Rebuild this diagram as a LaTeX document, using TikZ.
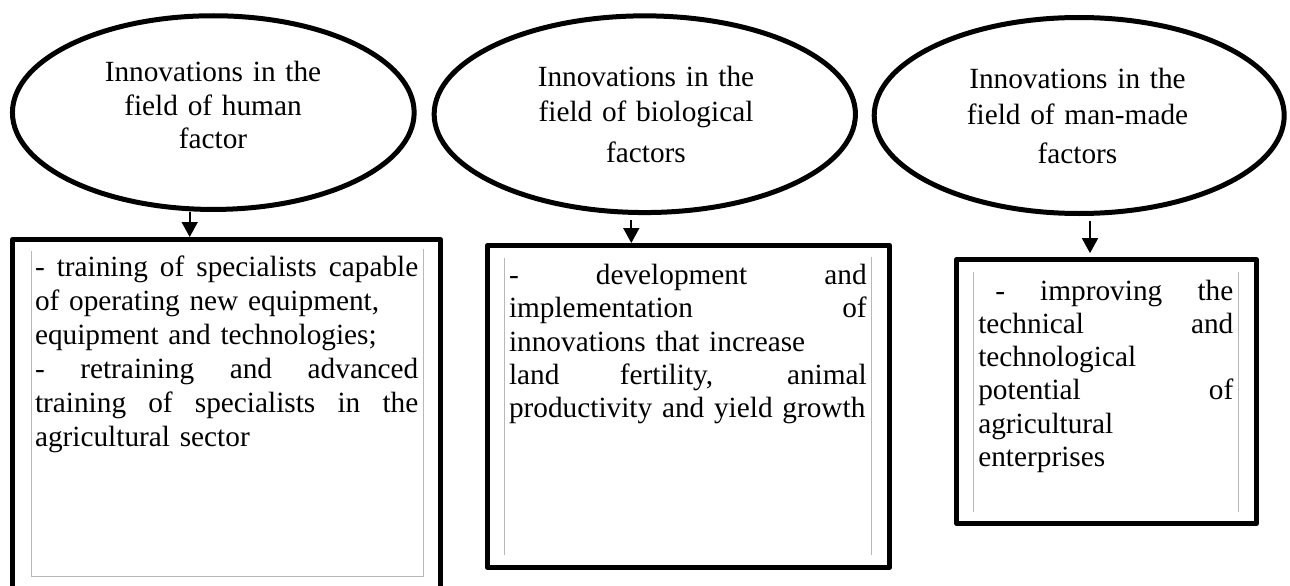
\documentclass[tikz,border=0pt]{standalone}
\usepackage{fontspec}
\setmainfont{Liberation Serif}
\usetikzlibrary{arrows.meta,shapes.geometric}
% a line of text spread to the full measure of its box
% (align=left fixes \spaceskip, so give the spaces back their stretch)
\newcommand{\spreadline}[2]{\makebox[#1][s]{\spaceskip=0pt\xspaceskip=0pt #2}}
\begin{document}
\begin{tikzpicture}[x=1pt,y=-1pt,
  txt/.style={font=\fontsize{29.3}{33.6}\selectfont, inner sep=0pt, outer sep=0pt},
  head/.style={txt, text width=380pt, align=center, anchor=base},
  body/.style={txt, align=left, anchor=base west},
  oval/.style={ellipse, draw, line width=5pt, inner sep=0pt},
  frame/.style={rectangle, draw, line width=5pt, line join=round, inner sep=0pt},
  guide/.style={draw=black!28, line width=1pt},
  arr/.style={line width=1.7pt, -{Triangle[width=16pt,length=15pt]}}]
\useasboundingbox (0,0) rectangle (1290,586);
\clip (0,0) rectangle (1290,586);

% ---- the three factor ellipses
\node[oval, minimum width=401.7pt, minimum height=193.7pt] (e1) at (213.3,112.6) {};
\node[oval, minimum width=421.3pt, minimum height=196.7pt] (e2) at (644.8,114.2) {};
\node[oval, minimum width=410pt,   minimum height=196pt]   (e3) at (1079.2,115.5) {};

\node[head] (h1) at (213,81.7)   {Innovations in the\\ field of human\\ factor};
\node[head] (h2) at (646,86)     {Innovations in the\\[2pt] field of biological\\[7pt] factors};
\node[head] (h3) at (1077.5,88.3){Innovations in the\\[3pt] field of man-made\\[4.5pt] factors};

% ---- the three content boxes
\node[frame, minimum width=428pt,   minimum height=352.5pt] (b1) at (226.5,415.75) {};
\node[frame, minimum width=402.5pt, minimum height=321.8pt] (b2) at (688.5,406.4) {};
\node[frame, minimum width=299.8pt, minimum height=263.7pt] (b3) at (1106.4,391.5) {};

% thin text-area guides inside the boxes
\draw[guide] (31.7,251) -- (31.7,576.7) -- (423.3,576.7) -- (423.3,249);
\draw[guide] (504.3,258) -- (504.3,555);
\draw[guide] (871.7,257) -- (871.7,555);
\draw[guide] (973.3,272) -- (973.3,512);
\draw[guide] (1238.3,272) -- (1238.3,512);

\node[body, text width=383.3pt, font=\fontsize{29.3}{34}\selectfont] (t1) at (35,276.7) {%
  \spreadline{383.3pt}{- training of specialists capable}\\
  of operating new equipment,\\
  equipment and technologies;\\
  \spreadline{383.3pt}{- retraining and advanced}\\
  \spreadline{383.3pt}{training of specialists in the}\\
  agricultural sector};

\node[body, text width=357.7pt, font=\fontsize{29.3}{33.3}\selectfont] (t2) at (509,284.5) {%
  \spreadline{357.7pt}{- development and}\\
  \spreadline{357.7pt}{implementation of}\\
  innovations that increase\\
  \spreadline{357.7pt}{land fertility, animal}\\
  productivity and yield growth};

\node[body, text width=255pt, font=\fontsize{29.3}{33.3}\selectfont] (t3) at (978.3,300) {%
  \spreadline{255pt}{\hspace*{17pt}- improving the}\\
  \spreadline{255pt}{technical and}\\
  technological\\
  \spreadline{255pt}{potential of}\\
  agricultural\\
  enterprises};

% ---- connectors
\coordinate (c1) at (189.7,0);
\coordinate (c2) at (631.3,0);
\coordinate (c3) at (1090,0);
\draw[arr] (e1.south -| c1) -- (b1.north -| c1);
\draw[arr, shorten <=5pt] (e2.south -| c2) -- (b2.north -| c2);
\draw[arr, shorten <=5pt, shorten >=4pt] (e3.south -| c3) -- (b3.north -| c3);
\end{tikzpicture}
\end{document}
